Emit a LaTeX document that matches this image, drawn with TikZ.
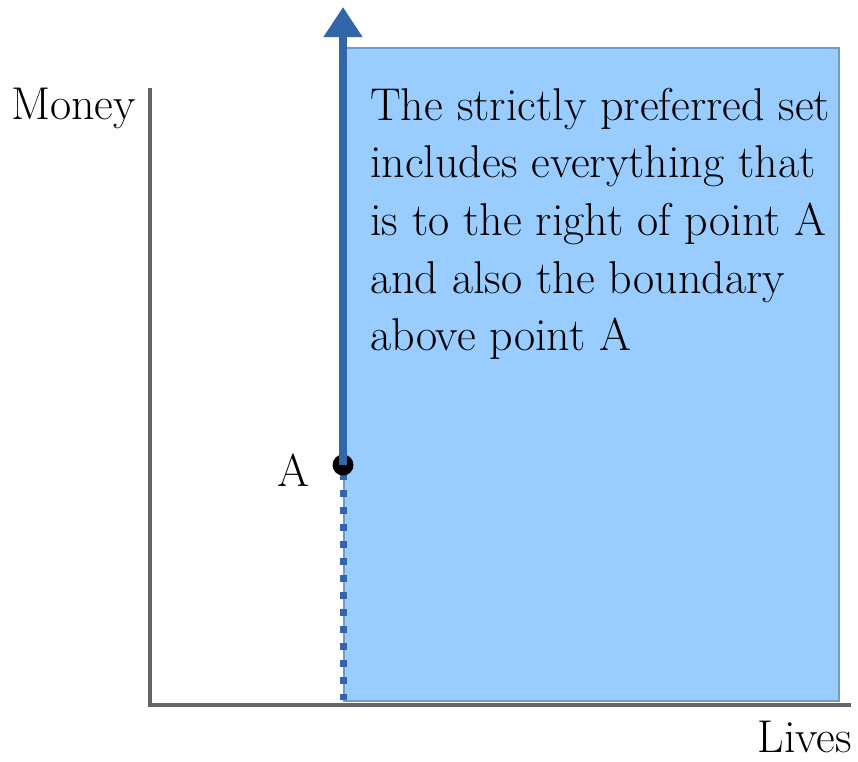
\documentclass[tikz,border=0pt]{standalone}
\usetikzlibrary{arrows.meta}
\definecolor{arrowblue}{RGB}{51,102,168}
\definecolor{setfill}{RGB}{153,204,255}
\definecolor{setedge}{RGB}{110,155,205}
\definecolor{axisgrey}{RGB}{102,102,102}
\tikzset{
  axisline/.style={draw=axisgrey,line width=4pt},
  lbl/.style={inner sep=0pt,font=\fontsize{46}{52}\selectfont},
  bodytext/.style={inner sep=0pt,align=left,font=\fontsize{46}{57.5}\selectfont},
  boundary/.style={draw=arrowblue,line width=8pt,-{Triangle[width=37pt,length=30pt]}},
  weakline/.style={draw=arrowblue,line width=7pt,dash pattern=on 7pt off 10pt},
  pointdot/.style={circle,fill=black,minimum size=21pt,inner sep=0pt}
}
\begin{document}
\begin{tikzpicture}[x=1pt,y=-1pt]
\useasboundingbox (0,0) rectangle (858,761);
% preferred region
\node[draw=setedge,fill=setfill,line width=2pt,minimum width=495pt,minimum height=653pt,inner sep=0pt,anchor=north west] (region) at (343,47) {};
% axes
\coordinate (origin) at (150,705);
\coordinate (ytop) at (150,88);
\coordinate (xend) at (851,705);
\draw[axisline] (ytop) -- (origin) -- (xend);
% point A
\coordinate (bottom) at (343,700);
\coordinate (top) at (343,7);
\draw[weakline] (343,473) -- (bottom);
\node[pointdot] (A) at (343,465) {};
\draw[boundary] (A.center) -- (top);
% labels
\node[lbl,anchor=base east] (Alabel) at (310,486) {A};
\node[lbl,anchor=base west] (money) at (11,119) {Money};
\node[lbl,anchor=base east] (lives) at (852,752) {Lives};
\node[bodytext,anchor=north west] (desc) at (370,88) {The strictly preferred set\\includes everything that\\is to the right of point A\\and also the boundary\\above point A};
\end{tikzpicture}
\end{document}
